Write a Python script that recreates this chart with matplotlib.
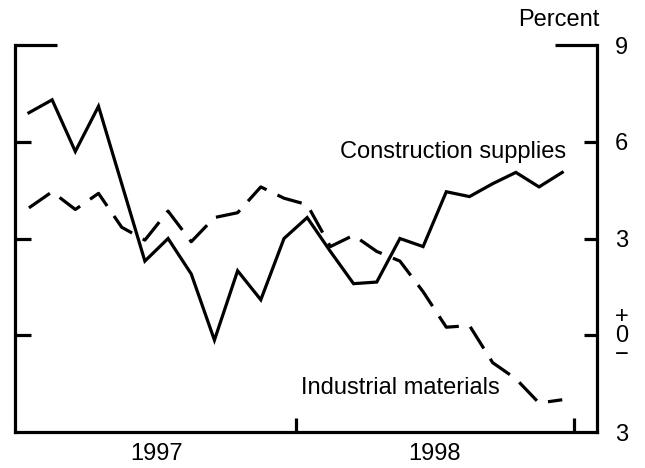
import numpy as np
import matplotlib
matplotlib.use("Agg")
import matplotlib.pyplot as plt

plt.rcParams['font.family'] = ['Liberation Sans', 'DejaVu Sans']

# monthly, Jan 1997 - Dec 1998
months = np.arange(24) + 0.5
construction = [6.9, 7.3, 5.7, 7.1, 4.7, 2.3, 3.0, 1.9, -0.15, 2.0, 1.1, 3.0,
                3.65, 2.6, 1.6, 1.65, 3.0, 2.75, 4.45, 4.3, 4.7, 5.05, 4.6, 5.05]
industrial = [3.95, 4.45, 3.9, 4.4, 3.35, 2.95, 3.85, 2.9, 3.65, 3.8, 4.6, 4.25,
              4.05, 2.75, 3.1, 2.6, 2.3, 1.35, 0.25, 0.3, -0.85, -1.35, -2.1, -2.0]

yticks = [-3, 0, 3, 6, 9]
ylabels = ['3', '+\n0\n\u2212', '3', '6', '9']
years = ['1997', '1998']

fig = plt.figure(figsize=(6.45, 4.68), dpi=100)
ax = fig.add_axes([0.0233, 0.0769, 0.9023, 0.8269])

ax.plot(months, construction, color='black', lw=2.3, solid_joinstyle='miter')
ax.plot(months, industrial, color='black', lw=2.3, linestyle=(0, (8, 3.8)))

ax.set_xlim(-0.1, 25.0)
ax.set_ylim(-3, 9)

for s in ['left', 'right', 'bottom']:
    ax.spines[s].set_linewidth(2.3)
ax.spines['top'].set_visible(False)
# short top caps at both ends
ax.plot([0, 0.072], [1, 1], transform=ax.transAxes, color='black', lw=2.3,
        clip_on=False, solid_capstyle='butt')
ax.plot([0.928, 1], [1, 1], transform=ax.transAxes, color='black', lw=2.3,
        clip_on=False, solid_capstyle='butt')

ax.yaxis.tick_right()
ax.set_yticks(yticks)
ax.set_yticklabels(ylabels)
ax.tick_params(axis='y', which='both', direction='in', length=0, pad=13,
               labelsize=17)
for lbl in ax.get_yticklabels():
    lbl.set_linespacing(0.8)
# inward ticks on both sides at 0, 3, 6
for yv in [0, 3, 6]:
    ax.plot([0, 0.027], [yv, yv], transform=ax.get_yaxis_transform(),
            color='black', lw=2.3, solid_capstyle='butt')
    ax.plot([0.977, 1], [yv, yv], transform=ax.get_yaxis_transform(),
            color='black', lw=2.3, solid_capstyle='butt')

ax.set_xticks([12, 24])
ax.set_xticklabels(['', ''])
ax.set_xticks([6, 18], minor=True)
ax.set_xticklabels(years, minor=True)
ax.tick_params(axis='x', which='major', direction='in', length=10, width=2.3)
ax.tick_params(axis='x', which='minor', length=0, pad=8, labelsize=17)

fig.text(0.93, 0.957, 'Percent', ha='right', va='center', fontsize=17)
ax.text(18.8, 5.67, 'Construction supplies', ha='center', va='center',
        fontsize=17)
ax.text(16.5, -1.64, 'Industrial materials', ha='center', va='center',
        fontsize=17)

fig.savefig('out.png', dpi=100)
